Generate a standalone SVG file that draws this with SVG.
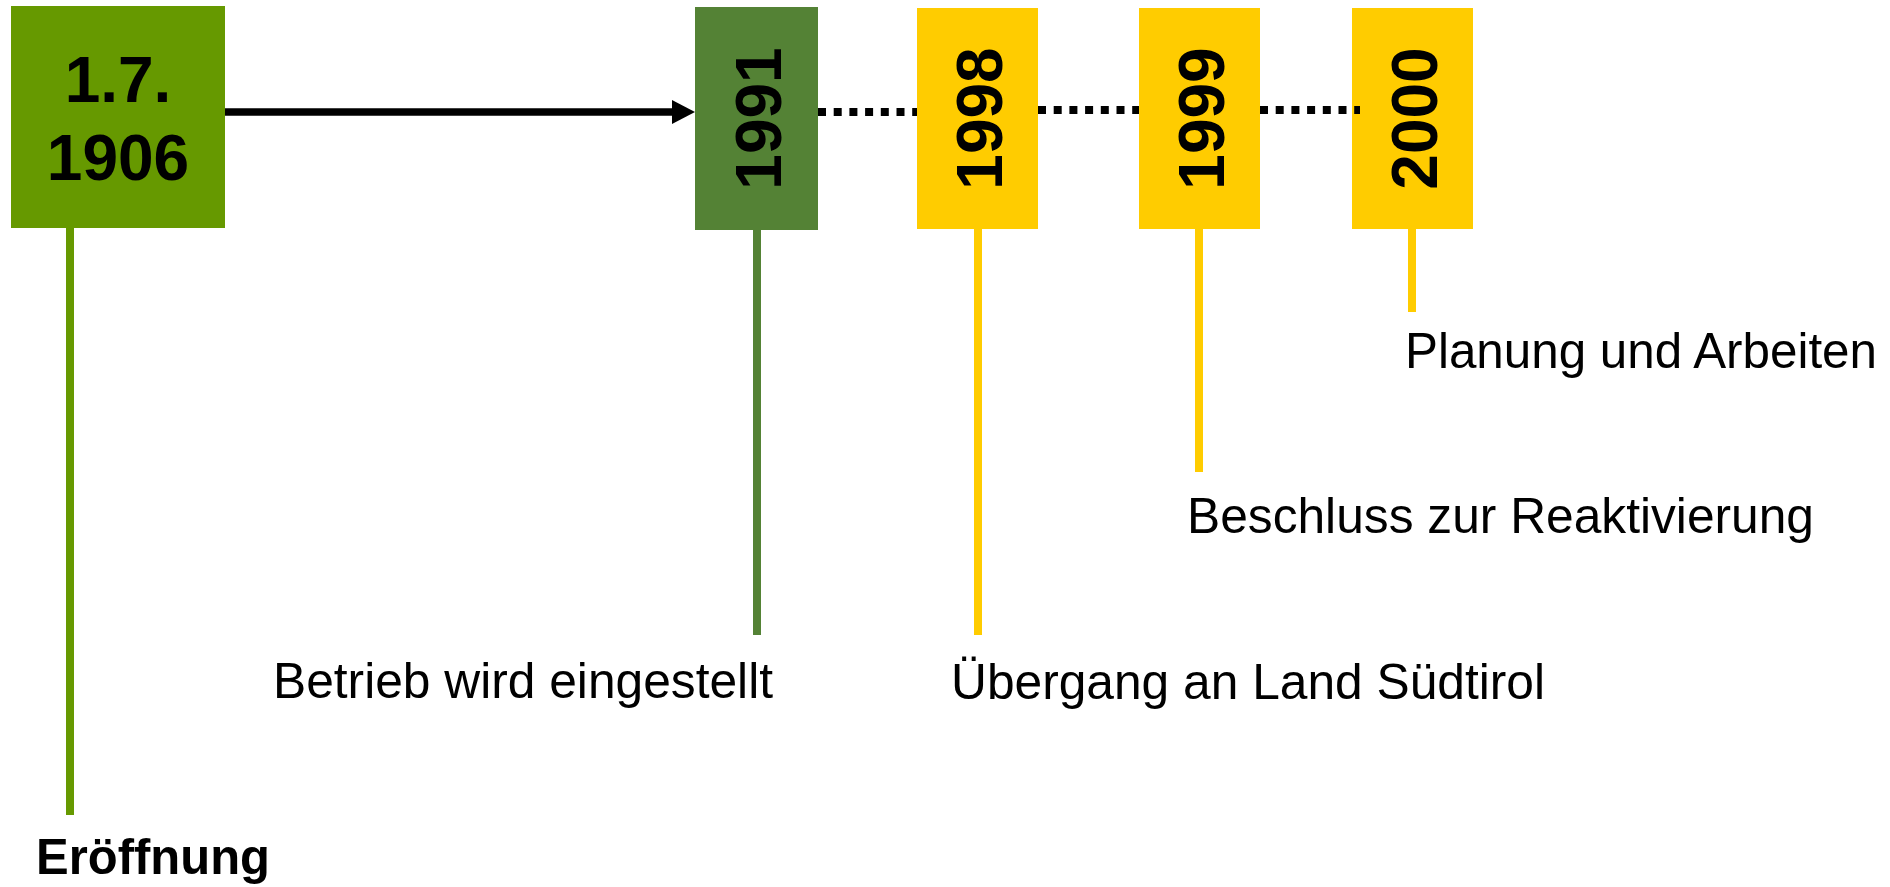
<svg xmlns="http://www.w3.org/2000/svg" width="1890" height="887" viewBox="0 0 1890 887">
<style>
.lbl{font-family:"Liberation Sans",Arial,sans-serif;font-size:49.5px;fill:#000}
.yr{font-family:"Liberation Sans",Arial,sans-serif;font-size:64px;font-weight:bold;fill:#000;text-anchor:middle}
.dot{stroke:#000;stroke-width:8;stroke-dasharray:8 7.7;fill:none}
</style>
<rect width="1890" height="887" fill="#fff"/>
<g id="node-1906">
<line x1="70" y1="226" x2="70" y2="815" stroke="#669900" stroke-width="8"/>
<rect x="11" y="6" width="214" height="222" fill="#669900"/>
<text class="yr" x="118" y="102">1.7.</text>
<text class="yr" x="118" y="180">1906</text>
<text class="lbl" x="36" y="874" font-weight="bold" font-size="48" textLength="234" lengthAdjust="spacingAndGlyphs">Eröffnung</text>
</g>
<g id="node-1991">
<line x1="757" y1="228" x2="757" y2="635" stroke="#548235" stroke-width="8"/>
<rect x="695" y="7" width="123" height="223" fill="#548235"/>
<text class="yr" transform="translate(781 118.5) rotate(-90)">1991</text>
<text class="lbl" x="273" y="698" textLength="500" lengthAdjust="spacingAndGlyphs">Betrieb wird eingestellt</text>
</g>
<g id="node-1998">
<line x1="978" y1="228" x2="978" y2="635" stroke="#FFCC00" stroke-width="8"/>
<rect x="917" y="8" width="121" height="221" fill="#FFCC00"/>
<text class="yr" transform="translate(1002 118.5) rotate(-90)">1998</text>
<text class="lbl" x="951" y="699" textLength="594" lengthAdjust="spacingAndGlyphs">Übergang an Land Südtirol</text>
</g>
<g id="node-1999">
<line x1="1199" y1="228" x2="1199" y2="472" stroke="#FFCC00" stroke-width="8"/>
<rect x="1139" y="8" width="121" height="221" fill="#FFCC00"/>
<text class="yr" transform="translate(1224 118.5) rotate(-90)">1999</text>
<text class="lbl" x="1187" y="533" textLength="627" lengthAdjust="spacingAndGlyphs">Beschluss zur Reaktivierung</text>
</g>
<g id="node-2000">
<line x1="1412" y1="228" x2="1412" y2="312" stroke="#FFCC00" stroke-width="8"/>
<rect x="1352" y="8" width="121" height="221" fill="#FFCC00"/>
<text class="yr" transform="translate(1437 118.5) rotate(-90)">2000</text>
<text class="lbl" x="1405" y="368" textLength="472" lengthAdjust="spacingAndGlyphs">Planung und Arbeiten</text>
</g>
<g id="connectors">
<line x1="225" y1="112" x2="674" y2="112" stroke="#000" stroke-width="7.5"/>
<polygon points="672,100 695,112 672,124" fill="#000"/>
<line class="dot" x1="818" y1="112" x2="917" y2="112"/>
<line class="dot" x1="1038" y1="110" x2="1139" y2="110"/>
<line class="dot" x1="1260" y1="110" x2="1360" y2="110"/>
</g>
</svg>
